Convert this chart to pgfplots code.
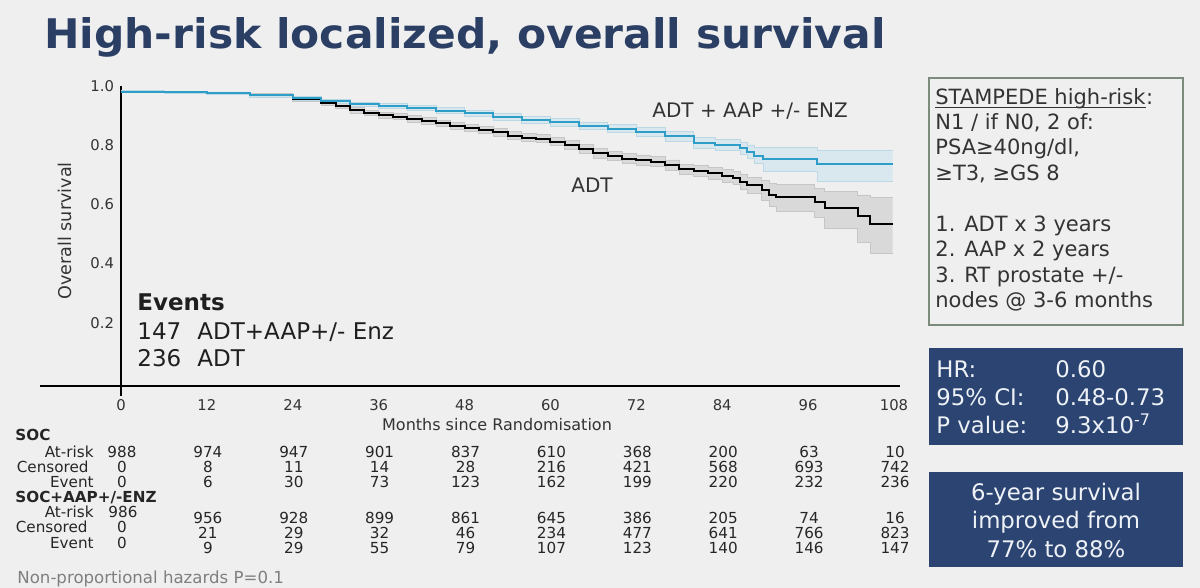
\documentclass[border=0pt]{standalone}
\usepackage{fontspec}
\setmainfont{DejaVu Sans}
\usepackage{graphicx}
\usepackage{pgfplots}
\pgfplotsset{compat=1.18}
\usepgfplotslibrary{fillbetween}
\usepackage{pgfplotstable}

\definecolor{slidebg}{HTML}{EFEFEF}
\definecolor{titlenavy}{HTML}{2B3F65}
\definecolor{boxnavy}{HTML}{2B4472}
\definecolor{boxtext}{HTML}{EEF2F7}
\definecolor{curveblue}{HTML}{2E9DC8}
\definecolor{bandblue}{HTML}{D2E5EE}
\definecolor{bandblueline}{HTML}{BCD8E4}
\definecolor{bandgrey}{HTML}{D9D9D9}
\definecolor{bandgreyline}{HTML}{C6C6C6}
\definecolor{txt}{HTML}{333333}
\definecolor{boxline}{HTML}{7D8B7D}
\definecolor{foot}{HTML}{7F7F7F}

\newcommand\fsz[1]{\fontsize{#1}{#1}\selectfont}

% Kaplan-Meier estimates with 95% confidence limits (months since randomisation)
\pgfplotstableread{
x     s     lo    hi
0     0.981 0.978 0.984
6     0.979 0.975 0.983
12    0.975 0.970 0.980
18    0.968 0.962 0.974
24    0.955 0.948 0.962
28    0.943 0.935 0.951
30    0.932 0.923 0.941
32    0.918 0.909 0.927
34    0.908 0.899 0.917
36    0.902 0.892 0.912
38    0.896 0.886 0.906
40    0.889 0.878 0.900
42    0.882 0.871 0.893
44    0.874 0.863 0.885
46    0.866 0.854 0.878
48    0.859 0.847 0.871
50    0.851 0.839 0.863
52    0.843 0.830 0.856
54    0.832 0.819 0.845
56    0.826 0.813 0.839
58    0.822 0.808 0.836
60    0.812 0.798 0.826
62    0.800 0.785 0.815
64    0.788 0.773 0.803
66    0.773 0.757 0.789
68    0.763 0.747 0.779
70    0.755 0.738 0.772
72    0.750 0.733 0.767
74    0.744 0.727 0.761
76    0.732 0.714 0.750
78    0.718 0.700 0.736
80    0.712 0.693 0.731
82    0.705 0.685 0.725
84    0.697 0.676 0.718
85.5  0.689 0.666 0.712
86.5  0.676 0.651 0.701
87.5  0.665 0.638 0.692
89.5  0.648 0.615 0.680
90.6  0.632 0.592 0.670
91.5  0.626 0.578 0.668
96.9  0.609 0.555 0.655
98.3  0.589 0.520 0.645
102.9 0.562 0.473 0.632
104.7 0.534 0.436 0.622
107.8 0.534 0.436 0.622
}\adt

\pgfplotstableread{
x     s     lo    hi
0     0.981 0.978 0.984
6     0.979 0.976 0.982
12    0.976 0.972 0.980
18    0.968 0.963 0.973
24    0.958 0.952 0.964
28    0.948 0.941 0.955
32    0.938 0.930 0.946
36    0.932 0.924 0.940
40    0.926 0.917 0.935
44    0.917 0.907 0.927
48    0.908 0.898 0.918
52    0.896 0.885 0.907
56    0.886 0.875 0.897
60    0.877 0.865 0.889
64    0.865 0.852 0.878
68    0.856 0.842 0.870
72    0.845 0.830 0.860
76    0.830 0.814 0.846
80    0.808 0.790 0.826
83    0.800 0.781 0.819
86.5  0.790 0.769 0.811
87.5  0.778 0.755 0.801
88.5  0.765 0.738 0.792
89.7  0.753 0.712 0.794
97.3  0.736 0.677 0.782
107.8 0.736 0.677 0.782
}\aap

\begin{document}
\begin{tikzpicture}

\begin{axis}[
  set layers, clip=false,
  at={(60.5pt,-193pt)}, anchor=south west,
  scale only axis, width=386.5pt, height=150pt,
  xmin=0, xmax=108, ymin=-0.0135, ymax=1,
  axis x line*=bottom, axis y line*=left,
  axis line style={line width=1pt, black, -},
  xtick={0,12,24,36,48,60,72,84,96,108},
  ytick={0.2,0.4,0.6,0.8,1.0},
  major tick length=0pt,
  /pgf/number format/assume math mode=true,
  tick label style={font=\fsz{7.4pt}, text=txt},
  xticklabel style={yshift=-3pt},
  yticklabel style={/pgf/number format/.cd, fixed, fixed zerofill, precision=1},
]
  % slide background, below every axis layer
  \begin{pgfonlayer}{axis background}
    \fill[slidebg] (rel axis cs:-0.15653,-0.67333) rectangle (rel axis cs:1.39586,1.28667);
  \end{pgfonlayer}
  % confidence bands
  \addplot[name path=adtH, const plot, draw=bandgreyline, line width=0.4pt] table[x=x, y=hi]{\adt};
  \addplot[name path=adtL, const plot, draw=bandgreyline, line width=0.4pt] table[x=x, y=lo]{\adt};
  \addplot[bandgrey] fill between[of=adtH and adtL];
  \addplot[name path=aapH, const plot, draw=bandblueline, line width=0.4pt] table[x=x, y=hi]{\aap};
  \addplot[name path=aapL, const plot, draw=bandblueline, line width=0.4pt] table[x=x, y=lo]{\aap};
  \addplot[bandblue, fill opacity=0.75] fill between[of=aapH and aapL];
  % survival curves
  \addplot[const plot, black, line width=1pt] table[x=x, y=s]{\adt};
  \addplot[const plot, curveblue, line width=1pt] table[x=x, y=s]{\aap};
\end{axis}

\begin{scope}[x=0.5pt, y=-0.5pt, inner sep=0pt]
  % axis extensions
  \draw[line width=1pt] (40,386) -- (900,386);
  \draw[line width=1pt] (121,386) -- (121,396);

  % title
  \node[anchor=base west, text=titlenavy] at (44,49)
    {\resizebox{420.5pt}{15.5pt}{\bfseries High-risk localized, overall survival}};

  % axis titles
  \node[rotate=90, text=txt, font=\fsz{8.8pt}] at (65,231) {Overall survival};
  \node[anchor=base, text=txt, font=\fsz{8pt}] at (497,430) {Months since Randomisation};

  % curve labels
  \node[anchor=base west, text=txt, font=\fsz{10pt}] at (652,118) {ADT + AAP +/- ENZ};
  \node[anchor=base west, text=txt, font=\fsz{10pt}] at (571,193) {ADT};

  % events
  \begin{scope}[font=\fsz{11.5pt}, text=black!88]
    \node[anchor=base west] at (137,311) {\bfseries Events};
    \node[anchor=base west] at (137,339.5) {147};
    \node[anchor=base west] at (197,339.5) {ADT+AAP+/- Enz};
    \node[anchor=base west] at (137,366.5) {236};
    \node[anchor=base west] at (197,366.5) {ADT};
  \end{scope}

  % numbers at risk
  \begin{scope}[font=\fsz{7.6pt}, text=black!85]
    \node[anchor=base west] at (15,440) {\bfseries SOC};
    \node[anchor=base east] at (94,457) {At-risk};
    \node[anchor=base east] at (89,472) {Censored};
    \node[anchor=base east] at (94,487) {Event};
    \node[anchor=base west] at (15,502) {\bfseries SOC+AAP+/-ENZ};
    \node[anchor=base east] at (94,517) {At-risk};
    \node[anchor=base east] at (88,532) {Censored};
    \node[anchor=base east] at (94,548) {Event};
    \foreach \m/\r/\c/\e in {0/988/0/0,12/974/8/6,24/947/11/30,36/901/14/73,48/837/28/123,
        60/610/216/162,72/368/421/199,84/200/568/220,96/63/693/232,108/10/742/236}{
      \node[anchor=base] at ({122+\m*7.1574},457) {\r};
      \node[anchor=base] at ({122+\m*7.1574},472) {\c};
      \node[anchor=base] at ({122+\m*7.1574},487) {\e};
    }
    \node[anchor=base] at (123,517) {986};
    \node[anchor=base] at (122,532) {0};
    \node[anchor=base] at (122,548) {0};
    \foreach \m/\r/\c/\e in {12/956/21/9,24/928/29/29,36/899/32/55,48/861/46/79,
        60/645/234/107,72/386/477/123,84/205/641/140,96/74/766/146,108/16/823/147}{
      \node[anchor=base] at ({122+\m*7.1574},523) {\r};
      \node[anchor=base] at ({122+\m*7.1574},538) {\c};
      \node[anchor=base] at ({122+\m*7.1574},553) {\e};
    }
  \end{scope}

  % footnote
  \node[anchor=base west, text=foot, font=\fsz{8.3pt}] at (17,583) {Non-proportional hazards P=0.1};

  % eligibility box
  \draw[boxline, line width=0.8pt] (929,78) rectangle (1183,325);
  \begin{scope}[font=\fsz{10.5pt}, text=txt]
    \node[anchor=base west] (st) at (935,105) {STAMPEDE high-risk};
    \draw[txt, line width=0.5pt] ([yshift=-1.4pt]st.base west) -- ([yshift=-1.4pt]st.base east);
    \node[anchor=base west] at (st.base east) {:};
    \node[anchor=base west] at (935,130) {N1 / if N0, 2 of:};
    \node[anchor=base west] at (935,155) {PSA≥40ng/dl,};
    \node[anchor=base west] at (935,181) {≥T3, ≥GS 8};
    \node[anchor=base west] at (935,232) {1. ADT x 3 years};
    \node[anchor=base west] at (935,257) {2. AAP x 2 years};
    \node[anchor=base west] at (935,283) {3. RT prostate +/-};
    \node[anchor=base west] at (935,308) {nodes @ 3-6 months};
  \end{scope}

  % hazard ratio box
  \fill[boxnavy] (929,348) rectangle (1183,445);
  \begin{scope}[font=\fsz{11.4pt}, text=boxtext]
    \node[anchor=base west] at (936,378) {HR:};
    \node[anchor=base west] at (1055,378) {0.60};
    \node[anchor=base west] at (936,406) {95\% CI:};
    \node[anchor=base west] at (1055,406) {0.48-0.73};
    \node[anchor=base west] at (936,433) {P value:};
    \node[anchor=base west] at (1055,433) {9.3x10\textsuperscript{-7}};
  \end{scope}

  % six-year survival box
  \fill[boxnavy] (929,472) rectangle (1183,567);
  \begin{scope}[font=\fsz{11.4pt}, text=boxtext]
    \node[anchor=base] at (1056,500) {6-year survival};
    \node[anchor=base] at (1056,528.5) {improved from};
    \node[anchor=base] at (1056,557) {77\% to 88\%};
  \end{scope}
\end{scope}

\pgfresetboundingbox
\useasboundingbox (0,0) rectangle (600pt,-294pt);
\end{tikzpicture}
\end{document}
